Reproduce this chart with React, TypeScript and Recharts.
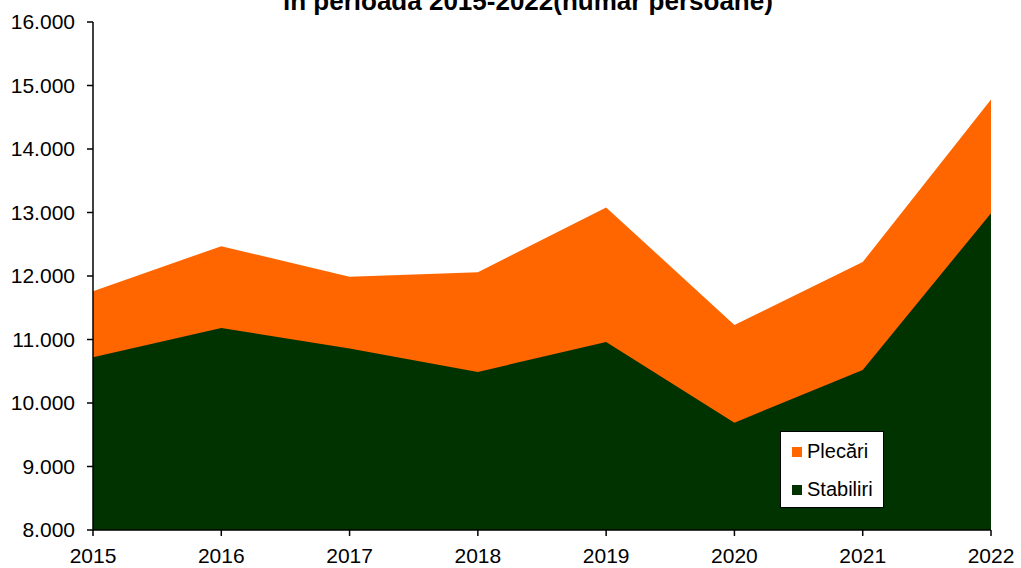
import { AreaChart, Area, XAxis, YAxis, Legend } from 'recharts';

const years = ['2015', '2016', '2017', '2018', '2019', '2020', '2021', '2022'];
const plecari = [11760, 12470, 11990, 12060, 13080, 11230, 12220, 14780];
const stabiliri = [10720, 11180, 10860, 10490, 10960, 9690, 10520, 12990];
const yTicks = [8000, 9000, 10000, 11000, 12000, 13000, 14000, 15000, 16000];

const titleText = 'în perioada 2015-2022(număr  persoane)';

const data = years.map((year, i) => ({
  year,
  Plecări: plecari[i],
  Stabiliri: stabiliri[i],
}));

const FONT = 'Arial, "Liberation Sans", sans-serif';

const fmt = (v: number) => String(v).replace(/\B(?=(\d{3})+(?!\d))/g, '.');

function LegendBox({ payload }: any) {
  return (
    <div
      style={{
        position: 'relative',
        width: 102,
        height: 75,
        border: '1px solid #000',
        background: '#fff',
        fontFamily: FONT,
        fontSize: 20,
        color: '#000',
        boxSizing: 'content-box',
      }}
    >
      {(payload || []).map((p: any, i: number) => (
        <div
          key={p.value}
          style={{
            position: 'absolute',
            left: 11,
            top: i === 0 ? 8 : 46,
            display: 'flex',
            alignItems: 'center',
            whiteSpace: 'nowrap',
          }}
        >
          <span style={{ display: 'inline-block', width: 10, height: 10, background: p.color, marginRight: 5 }} />
          <span>{p.value}</span>
        </div>
      ))}
    </div>
  );
}

export default function App() {
  return (
    <div
      style={{
        position: 'fixed',
        left: 0,
        top: 0,
        width: 1021,
        height: 568,
        overflow: 'hidden',
        background: '#fff',
        fontFamily: FONT,
      }}
    >
      <div
        style={{
          position: 'absolute',
          left: 283,
          top: -14,
          fontSize: 26,
          fontWeight: 'bold',
          lineHeight: '30px',
          whiteSpace: 'nowrap',
          color: '#000',
        }}
      >
        {titleText}
      </div>
      <AreaChart
        width={1021}
        height={568}
        data={data}
        margin={{ top: 22, right: 30, left: 0, bottom: 0 }}
      >
        <XAxis
          dataKey="year"
          height={38}
          axisLine={{ stroke: '#000', strokeWidth: 1.5 }}
          tickLine={{ stroke: '#000', strokeWidth: 1.5 }}
          tickSize={6}
          tickMargin={12}
          tick={{ fill: '#000', fontSize: 21, fontFamily: FONT }}
          interval={0}
        />
        <YAxis
          width={93}
          domain={[8000, 16000]}
          ticks={yTicks}
          tickFormatter={fmt}
          axisLine={{ stroke: '#000', strokeWidth: 1.5 }}
          tickLine={{ stroke: '#000', strokeWidth: 1.5 }}
          tickSize={6}
          tickMargin={12}
          tick={{ fill: '#000', fontSize: 21, fontFamily: FONT }}
          allowDataOverflow
        />
        <Legend
          layout="vertical"
          align="center"
          verticalAlign="middle"
          content={<LegendBox />}
          wrapperStyle={{ position: 'absolute', left: 780, top: 431, width: 104, height: 77 }}
        />
        <Area
          type="linear"
          dataKey="Plecări"
          stroke="none"
          fill="#FF6600"
          fillOpacity={1}
          isAnimationActive={false}
          dot={false}
          activeDot={false}
        />
        <Area
          type="linear"
          dataKey="Stabiliri"
          stroke="none"
          fill="#003300"
          fillOpacity={1}
          isAnimationActive={false}
          dot={false}
          activeDot={false}
        />
      </AreaChart>
    </div>
  );
}
